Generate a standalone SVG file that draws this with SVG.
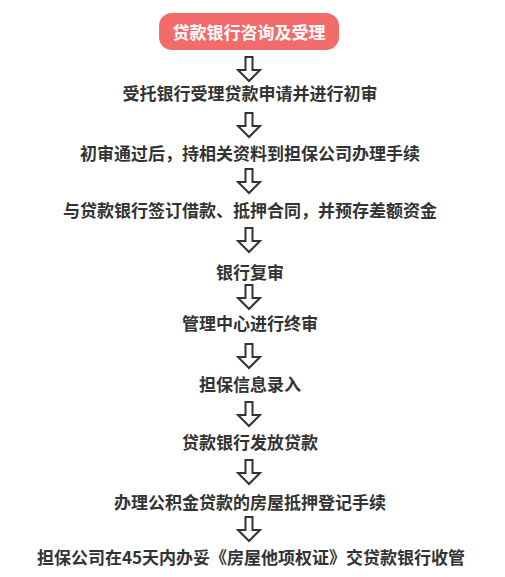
<svg xmlns="http://www.w3.org/2000/svg" xmlns:xlink="http://www.w3.org/1999/xlink" width="505" height="577" viewBox="0 0 505 577">
<defs>
<style>
.t{font-family:"Noto Sans CJK SC","Microsoft YaHei",sans-serif;font-size:17px;font-weight:bold;fill:#333;text-anchor:middle;dominant-baseline:central}
.w{fill:#fff}
.ar{fill:#fff;stroke:#333;stroke-width:2;stroke-linejoin:miter}
</style>
<path id="arrow" class="ar" d="M-3.5,0 L3.5,0 L3.5,13 L11,13 L0,24 L-11,13 L-3.5,13 Z"/>
</defs>
<rect width="505" height="577" fill="#fff"/>
<g id="n0">
<rect x="159" y="13" width="180" height="37" rx="13" fill="#f46b6b"/>
<text class="t w" x="249" y="31.5">贷款银行咨询及受理</text>
</g>
<g id="n1"><text class="t" x="250" y="92">受托银行受理贷款申请并进行初审</text></g>
<g id="n2"><text class="t" x="250" y="152">初审通过后，持相关资料到担保公司办理手续</text></g>
<g id="n3"><text class="t" x="250" y="209">与贷款银行签订借款、抵押合同，并预存差额资金</text></g>
<g id="n4"><text class="t" x="250" y="271">银行复审</text></g>
<g id="n5"><text class="t" x="250" y="322">管理中心进行终审</text></g>
<g id="n6"><text class="t" x="250" y="383">担保信息录入</text></g>
<g id="n7"><text class="t" x="250" y="441">贷款银行发放贷款</text></g>
<g id="n8"><text class="t" x="250" y="501">办理公积金贷款的房屋抵押登记手续</text></g>
<g id="n9"><text class="t" x="251" y="556">担保公司在45天内办妥《房屋他项权证》交贷款银行收管</text></g>
<g id="connectors">
<use xlink:href="#arrow" x="249" y="57"/>
<use xlink:href="#arrow" x="249" y="113"/>
<use xlink:href="#arrow" x="249" y="169"/>
<use xlink:href="#arrow" x="249" y="228"/>
<use xlink:href="#arrow" x="249" y="285"/>
<use xlink:href="#arrow" x="249" y="344"/>
<use xlink:href="#arrow" x="249" y="402"/>
<use xlink:href="#arrow" x="249" y="460"/>
<use xlink:href="#arrow" x="249" y="517"/>
</g>
</svg>
